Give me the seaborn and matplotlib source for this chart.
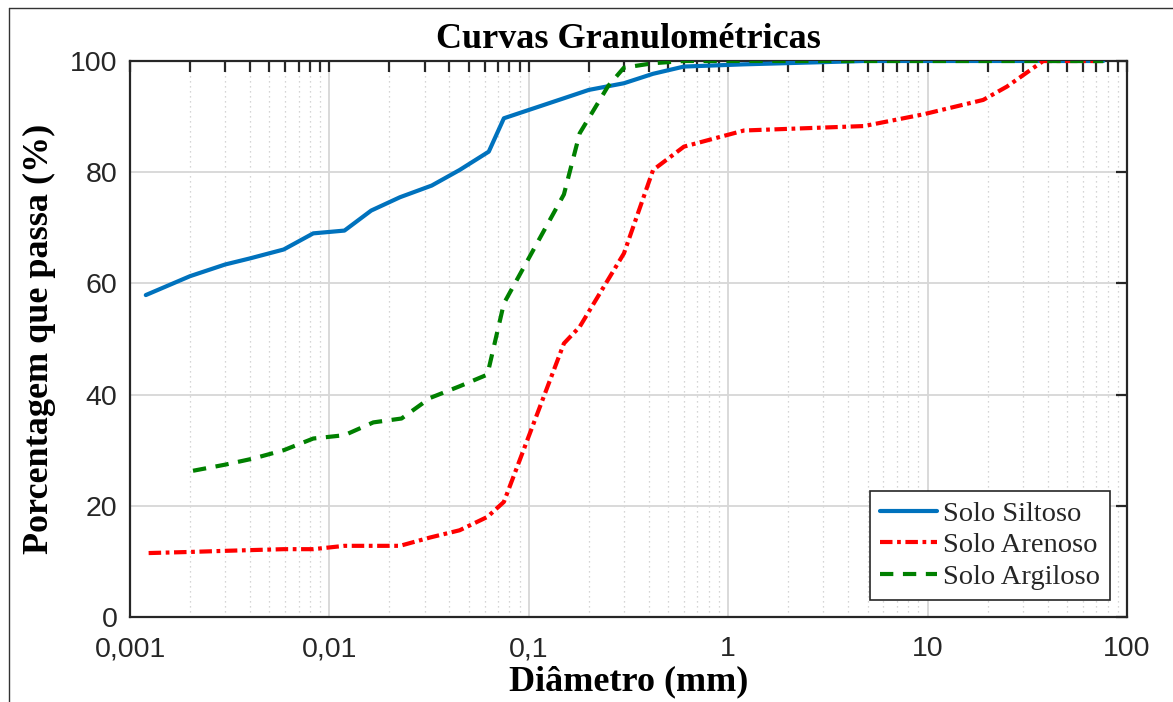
import numpy as np
import pandas as pd
import matplotlib
matplotlib.use("Agg")
import matplotlib.pyplot as plt
from matplotlib.ticker import FixedLocator, FixedFormatter, LogLocator, NullFormatter
from matplotlib.lines import Line2D
import seaborn as sns

# ---- data ----
silt_d = [0.0012, 0.002, 0.003, 0.004, 0.0059, 0.0083, 0.0119, 0.0162, 0.0226,
          0.0326, 0.045, 0.063, 0.075, 0.15, 0.2, 0.3, 0.42, 0.6, 1.2, 4.8, 76]
silt_p = [57.9, 61.3, 63.4, 64.5, 66.1, 69.0, 69.5, 73.1, 75.5,
          77.6, 80.4, 83.7, 89.7, 93.3, 94.8, 96.0, 97.7, 99.0, 99.4, 100, 100]

sand_d = [0.00124, 0.002, 0.003, 0.0059, 0.0083, 0.0119, 0.0226, 0.032, 0.045,
          0.062, 0.075, 0.15, 0.18, 0.3, 0.42, 0.6, 1.2, 4.8, 9.5, 19, 25, 38, 76]
sand_p = [11.5, 11.7, 11.9, 12.2, 12.2, 12.8, 12.8, 14.3, 15.6,
          18.0, 20.7, 49.2, 52.2, 65.4, 80.4, 84.6, 87.5, 88.3, 90.4, 93.0, 95.4, 100, 100]

clay_d = [0.00207, 0.003, 0.00415, 0.0059, 0.0083, 0.0119, 0.0166, 0.023, 0.032,
          0.045, 0.062, 0.075, 0.15, 0.18, 0.25, 0.3, 0.42, 0.6, 76]
clay_p = [26.3, 27.4, 28.5, 30.0, 32.1, 32.7, 35.0, 35.7, 39.4,
          41.5, 43.6, 56.4, 76.0, 87.0, 95.5, 98.8, 99.6, 100, 100]

series_names = ["Solo Siltoso", "Solo Arenoso", "Solo Argiloso"]
x_ticks = [0.001, 0.01, 0.1, 1, 10, 100]
x_tick_labels = ["0,001", "0,01", "0,1", "1", "10", "100"]
y_ticks = [0, 20, 40, 60, 80, 100]

df = pd.concat([
    pd.DataFrame({"d": silt_d, "p": silt_p, "solo": series_names[0]}),
    pd.DataFrame({"d": sand_d, "p": sand_p, "solo": series_names[1]}),
    pd.DataFrame({"d": clay_d, "p": clay_p, "solo": series_names[2]}),
], ignore_index=True)

sns.set_theme(style="white")
plt.rcParams['font.family'] = ['Liberation Sans', 'DejaVu Sans']

fig = plt.figure(figsize=(11.73, 7.02), dpi=100)
ax = fig.add_axes([130/1173, 1-617/702, (1127-130)/1173, (617-61)/702])

styles = {
    series_names[0]: dict(color="#0072BD", ls="-"),
    series_names[1]: dict(color="#FF0000", ls=(0, (3.0, 1.1, 0.9, 1.1))),
    series_names[2]: dict(color="#008000", ls=(0, (3.2, 2.3))),
}
LW = 3.0
for name in series_names:
    sub = df[df["solo"] == name]
    st = styles[name]
    sns.lineplot(data=sub, x="d", y="p", ax=ax, sort=False, estimator=None,
                 color=st["color"], linewidth=LW, linestyle=st["ls"],
                 label=name, legend=False, zorder=3)

ax.set_xscale("log")
ax.set_xlim(0.001, 100)
ax.set_ylim(0, 100)

ax.xaxis.set_major_locator(FixedLocator(x_ticks))
ax.xaxis.set_major_formatter(FixedFormatter(x_tick_labels))
ax.xaxis.set_minor_locator(LogLocator(base=10, subs=np.arange(2, 10)))
ax.xaxis.set_minor_formatter(NullFormatter())
ax.set_yticks(y_ticks)
ax.set_yticklabels([str(v) for v in y_ticks])

spine_c = "#262626"
for s in ax.spines.values():
    s.set_visible(True)
    s.set_color(spine_c)
    s.set_linewidth(1.6)

ax.tick_params(axis="both", which="both", direction="in", top=True, right=True,
               color=spine_c, width=1.6, labelsize=20.5, labelcolor=spine_c)
ax.tick_params(axis="both", which="major", length=8)
ax.tick_params(axis="x", which="minor", length=8)
ax.tick_params(axis="x", which="major", pad=14)
ax.tick_params(axis="y", which="major", pad=9)

ax.grid(True, which="major", color="#d7d7d7", linewidth=1.3, linestyle="-", zorder=0)
ax.grid(True, which="minor", axis="x", color="#c8c8c8", linewidth=0.9,
        linestyle=(0, (1, 3)), zorder=0)
ax.set_axisbelow(True)

serif = ['Liberation Serif', 'DejaVu Serif']
ax.set_title("Curvas Granulométricas", family=serif, fontweight="bold",
             fontsize=26, color="black", pad=9)
ax.set_xlabel("Diâmetro (mm)", family=serif, fontweight="bold", fontsize=26,
              color="black", labelpad=2)
ax.set_ylabel("Porcentagem que passa (%)", family=serif, fontweight="bold",
              fontsize=26, color="black", labelpad=10)

handles = [Line2D([0], [0], color=styles[n]["color"], lw=LW, ls=styles[n]["ls"])
           for n in series_names]
leg = ax.legend(handles, series_names, loc="lower right", frameon=True,
                prop={'family': serif, 'size': 20.5}, handlelength=2.0,
                handletextpad=0.2, labelspacing=0.2, borderpad=0.35,
                borderaxespad=0.6, fancybox=False)
leg.get_frame().set_edgecolor("#262626")
leg.get_frame().set_linewidth(1.2)
leg.get_frame().set_facecolor("white")
leg.get_frame().set_alpha(1)

# page frame lines around the figure
fig.add_artist(Line2D([9/1173, 9/1173], [0, 1-8/702], transform=fig.transFigure,
                      color="#333333", lw=1.0))
fig.add_artist(Line2D([9/1173, 1], [1-8/702, 1-8/702], transform=fig.transFigure,
                      color="#333333", lw=1.0))

fig.savefig("out.png", dpi=100)
